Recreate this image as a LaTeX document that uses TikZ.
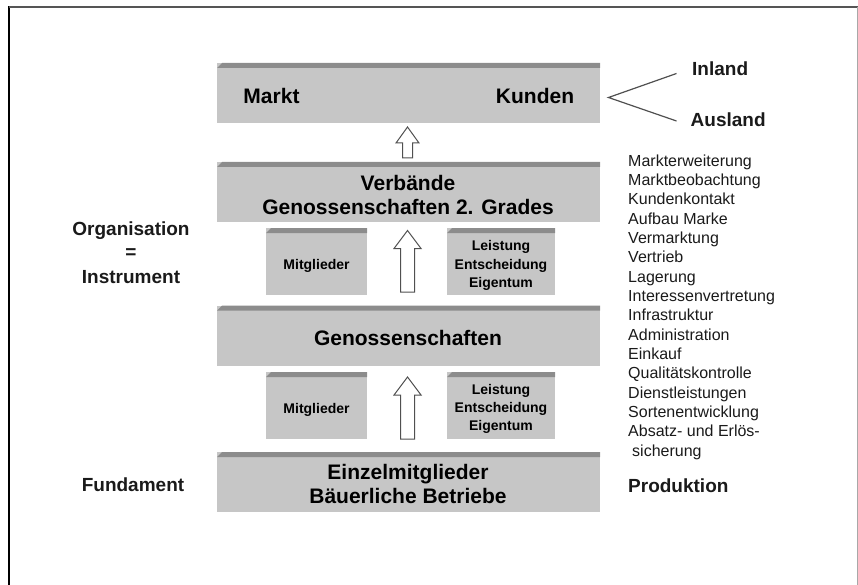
\documentclass[tikz,border=0pt]{standalone}
\usepackage{fontspec}
\setmainfont{Liberation Sans}
\definecolor{slabface}{HTML}{C6C6C6}
\definecolor{slabtop}{HTML}{8C8C8C}
\definecolor{arrowline}{HTML}{505050}
\definecolor{ink}{HTML}{1A1A1A}
\definecolor{frametop}{HTML}{555555}
\definecolor{frameright}{HTML}{A8A8A8}

% hollow block arrow pointing up: centre x, tip y, foot y, half shaft, half head, head length
\newcommand\hollowup[6]{%
  \draw[blockarrow] (#1-#4,#3) -- (#1-#4,#2+#6) -- (#1-#5,#2+#6) -- (#1,#2)
    -- (#1+#5,#2+#6) -- (#1+#4,#2+#6) -- (#1+#4,#3) -- cycle;}

\begin{document}
\begin{tikzpicture}[x=1pt,y=-1pt,
  slab/.style={fill=slabface, draw=none, inner sep=0pt, outer sep=0pt,
    path picture={
      \fill[slabtop]
        ([yshift=-5pt]path picture bounding box.north west)
        -- ([xshift=5pt]path picture bounding box.north west)
        -- (path picture bounding box.north east)
        -- ([yshift=-5pt]path picture bounding box.north east) -- cycle;}},
  bigslab/.style={slab, minimum width=383pt, minimum height=60pt},
  smallslab/.style={slab, minimum height=67pt},
  headtext/.style={font=\bfseries\fontsize{21}{24}\selectfont, align=center, inner sep=0pt, text=black},
  cardtext/.style={font=\bfseries\fontsize{14}{18.3}\selectfont, align=center, inner sep=0pt, text=black},
  sidetext/.style={font=\bfseries\fontsize{19}{23}\selectfont, inner sep=0pt, text=ink},
  listtext/.style={font=\fontsize{16}{19.33}\selectfont, align=left, inner sep=0pt, text=ink},
  blockarrow/.style={draw=arrowline, fill=white, line width=1pt, line join=miter},
  fork/.style={draw=arrowline, line width=1.2pt}]

\useasboundingbox (0,0) rectangle (858,585);

% page frame
\draw[black, line width=1.2pt] (9,6.5) -- (9,585);
\draw[frametop, line width=1.6pt] (9,7) -- (858,7);
\draw[frameright, line width=1pt] (857.3,7) -- (857.3,585);

% the four layers
\node[bigslab] (market) at (408.5,93) {};
\node[bigslab] (unions) at (408.5,192) {};
\node[bigslab] (coops)  at (408.5,335.5) {};
\node[bigslab] (farms)  at (408.5,482) {};

\node[headtext] (markt)  at (271.5,96) {Markt};
\node[headtext] (kunden) at (535,96) {Kunden};
\node[headtext] (unionstext) at (408,195) {Verbände\\Genossenschaften 2. Grades};
\node[headtext] (coopstext)  at (408,337.5) {Genossenschaften};
\node[headtext] (farmstext)  at (408,484) {Einzelmitglieder\\Bäuerliche Betriebe};

% member cards between the layers
\node[smallslab, minimum width=101pt] (membersA) at (316.5,261.5) {};
\node[smallslab, minimum width=108pt] (rightsA)  at (501,261.5) {};
\node[smallslab, minimum width=101pt] (membersB) at (316.5,405.5) {};
\node[smallslab, minimum width=108pt] (rightsB)  at (501,405.5) {};

\node[cardtext] (membersAtext) at (316.5,266) {Mitglieder};
\node[cardtext] (rightsAtext)  at (501,265.5) {Leistung\\Entscheidung\\Eigentum};
\node[cardtext] (membersBtext) at (316.5,410) {Mitglieder};
\node[cardtext] (rightsBtext)  at (501,409) {Leistung\\Entscheidung\\Eigentum};

% upward block arrows
\hollowup{407.5}{127}{158}{5}{11.5}{16}
\hollowup{407.5}{230.5}{292}{7}{13.5}{18}
\hollowup{407.5}{377}{439}{7}{13.5}{18}

% left labels
\node[sidetext] (organisation) at (131,230.5) {Organisation};
\node[sidetext] (equals)       at (131,253.5) {=};
\node[sidetext] (instrument)   at (131,277) {Instrument};
\node[sidetext] (fundament)    at (133,484.5) {Fundament};

% customers fork
\node[sidetext, anchor=west] (inland)  at (692,69) {Inland};
\node[sidetext, anchor=west] (ausland) at (690.5,119.5) {Ausland};
\coordinate (apex) at (608.5,97.5);
\coordinate (inlandend) at (676.5,73.5);
\coordinate (auslandend) at (676.5,121);
\draw[fork] (inlandend) -- (apex) -- (auslandend);

% task list
\node[listtext, anchor=north west] (tasks) at (628,154.5)
  {Markterweiterung\\Marktbeobachtung\\Kundenkontakt\\Aufbau Marke\\Vermarktung\\Vertrieb\\Lagerung\\Interessenvertretung\\Infrastruktur\\Administration\\Einkauf\\Qualitätskontrolle\\Dienstleistungen\\Sortenentwicklung\\Absatz- und Erlös-\\\hspace*{4pt}sicherung};

\node[sidetext, anchor=west] (produktion) at (628,486) {Produktion};
\end{tikzpicture}
\end{document}
